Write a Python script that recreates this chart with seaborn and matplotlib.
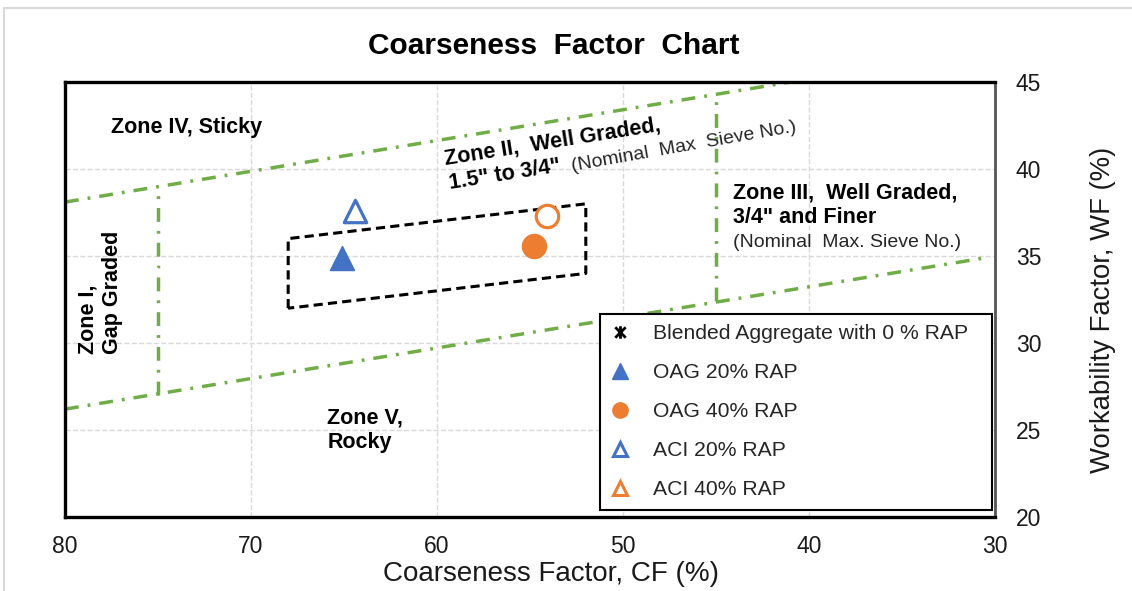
import seaborn as sns
import matplotlib.pyplot as plt
from matplotlib.lines import Line2D
from matplotlib.path import Path
from matplotlib.patches import Rectangle

# measured mixes (CF %, WF %)
blend_cf = [75.2]
blend_wf = [34.4]
oag20_cf = [65.1]
oag20_wf = [34.9]
oag40_cf = [54.8]
oag40_wf = [35.6]
aci20_cf = [64.4]
aci20_wf = [37.6]
aci40_cf = [54.1]
aci40_wf = [37.3]

# zone boundaries
upper_cf = [80, 41]
upper_wf = [38.1, 45]
lower_cf = [80, 30.5]
lower_wf = [26.2, 34.9]
zone1_cf = [75, 75]
zone1_wf = [27.0, 38.6]
zone3_cf = [45, 45]
zone3_wf = [32.4, 43.9]
box_cf = [68, 68, 52, 52, 68]
box_wf = [32, 36, 38, 34, 32]

cf_ticks = [80, 70, 60, 50, 40, 30]
wf_ticks = [20, 25, 30, 35, 40, 45]

legend_labels = ["Blended Aggregate with 0 % RAP", "OAG 20% RAP", "OAG 40% RAP",
                 "ACI 20% RAP", "ACI 40% RAP"]

blue = "#4472C4"
orange = "#ED7D31"
green = "#70AD47"

sns.set_style("white")
plt.rcParams['font.family'] = ['Liberation Sans', 'DejaVu Sans']

# asterisk marker like the excel "star" (x with a vertical bar)
star = Path([(-1, -1), (1, 1), (-1, 1), (1, -1), (0, -1.2), (0, 1.2)],
            [Path.MOVETO, Path.LINETO, Path.MOVETO, Path.LINETO, Path.MOVETO, Path.LINETO])

fig = plt.figure(figsize=(11.32, 5.91), dpi=100)
ax = fig.add_axes([0.0574, 0.1252, 0.8216, 0.7360])

# zone lines
dashdot = (0, (4, 2.6, 0.8, 2.6))
for xs, ys in [(upper_cf, upper_wf), (lower_cf, lower_wf), (zone1_cf, zone1_wf), (zone3_cf, zone3_wf)]:
    sns.lineplot(x=xs, y=ys, sort=False, estimator=None, color=green, linewidth=2.5,
                 linestyle=dashdot, ax=ax, zorder=2)
sns.lineplot(x=box_cf, y=box_wf, sort=False, estimator=None, color="black", linewidth=2.2,
             linestyle=(0, (3, 1.7)), ax=ax, zorder=2)

# points
sns.scatterplot(x=blend_cf, y=blend_wf, marker=star, s=170, color="black", linewidth=2, ax=ax, zorder=4)
sns.scatterplot(x=oag20_cf, y=oag20_wf, marker="^", s=300, color=blue, edgecolor=blue, linewidth=1, ax=ax, zorder=4)
sns.scatterplot(x=oag40_cf, y=oag40_wf, marker="o", s=300, color=orange, edgecolor=orange, linewidth=1, ax=ax, zorder=4)
sns.scatterplot(x=aci20_cf, y=aci20_wf, marker="^", s=260, color=blue, facecolor="white", edgecolor=blue,
                linewidth=2.3, ax=ax, zorder=4)
sns.scatterplot(x=aci40_cf, y=aci40_wf, marker="o", s=260, color=orange, facecolor="white", edgecolor=orange,
                linewidth=2.3, ax=ax, zorder=4)

ax.set_xlim(80, 30)
ax.set_ylim(20, 45)
ax.set_xticks(cf_ticks)
ax.set_yticks(wf_ticks)
ax.yaxis.tick_right()
ax.yaxis.set_label_position('right')
ax.tick_params(axis='both', length=0, labelsize=16.5, colors='#1a1a1a')
ax.tick_params(axis='x', pad=13)
ax.tick_params(axis='y', pad=15)
ax.grid(True, color='#d9d9d9', linestyle='--', linewidth=1)
ax.set_axisbelow(True)

for side in ['left', 'top', 'bottom']:
    ax.spines[side].set_color('black')
    ax.spines[side].set_linewidth(2.4)
ax.spines['right'].set_color('#555555')
ax.spines['right'].set_linewidth(2)

ax.set_xlabel("Coarseness Factor, CF (%)", fontsize=20, color='#1a1a1a')
ax.xaxis.set_label_coords(0.5226, -0.10)
ax.set_ylabel("Workability Factor, WF (%)", fontsize=19.8, color='#1a1a1a')
ax.yaxis.set_label_coords(1.102, 0.476)

fig.text(0.489, 0.922, "Coarseness  Factor  Chart", fontsize=21.5, fontweight='bold',
         color='black', ha='center', va='center')

# zone labels
zkw = dict(fontsize=15.5, fontweight='bold', color='black')
ax.text(77.5, 42.4, "Zone IV, Sticky", ha='left', va='center', **zkw)
ax.text(78.1, 32.9, "Zone I,\nGap Graded", rotation=90, ha='center', va='center',
        multialignment='left', linespacing=1.2, **zkw)
ax.text(65.9, 25.0, "Zone V,\nRocky", ha='left', va='center', linespacing=1.25, **zkw)
ax.text(59.57, 40.23, "Zone II,  Well Graded,", rotation=9, rotation_mode='anchor',
        ha='left', va='baseline', **zkw)
ax.text(59.3, 38.85, "1.5\" to 3/4\"", rotation=9, rotation_mode='anchor',
        ha='left', va='baseline', **zkw)
ax.text(52.74, 39.9, "(Nominal  Max  Sieve No.)", rotation=10, rotation_mode='anchor',
        ha='left', va='baseline', fontsize=14)
ax.text(44.1, 38.3, "Zone III,  Well Graded,", ha='left', va='baseline', **zkw)
ax.text(44.1, 36.9, "3/4\" and Finer", ha='left', va='baseline', **zkw)
ax.text(44.1, 35.5, "(Nominal  Max. Sieve No.)", ha='left', va='baseline', fontsize=14)

# legend (ACI 40% shows an open triangle in the key)
handles = [
    Line2D([], [], ls='none', marker=star, markersize=9, color='black', mew=2),
    Line2D([], [], ls='none', marker='^', markersize=11, color=blue),
    Line2D([], [], ls='none', marker='o', markersize=11, color=orange),
    Line2D([], [], ls='none', marker='^', markersize=10, mfc='white', mec=blue, mew=2.2),
    Line2D([], [], ls='none', marker='^', markersize=10, mfc='white', mec=orange, mew=2.2),
]
leg = ax.legend(handles, legend_labels, loc='lower left', bbox_to_anchor=(0.575, 0.016, 0.4215, 0.45),
                mode='expand', fontsize=15.2, frameon=True, fancybox=False, edgecolor='black',
                framealpha=1, labelspacing=0.95, handlelength=0.9, handletextpad=1.12,
                borderpad=0.5, borderaxespad=0)
leg.get_frame().set_linewidth(1.5)

# light chart-area border
fig.patches.append(Rectangle((0.0035, -0.01), 1.0, 0.9965, transform=fig.transFigure,
                             fill=False, edgecolor='#d9d9d9', linewidth=1.5))

fig.savefig("out.png", dpi=100)
